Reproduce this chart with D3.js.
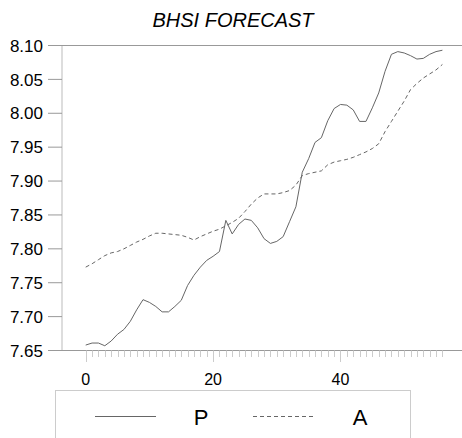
<!DOCTYPE html>
<html>
<head>
<meta charset="utf-8">
<script src="https://cdn.jsdelivr.net/npm/d3@7"></script>
<style>
  body { margin: 0; background: #fff; }
  svg { display: block; font-family: "Liberation Sans", Arial, sans-serif; }
</style>
</head>
<body>
<svg id="chart" width="462" height="438"></svg>
<script>
"use strict";

// data
const titulo = "BHSI FORECAST";
const series_nombres = ["P", "A"];
const periodos = d3.range(0, 57);
const valores_p = [
    7.658, 7.661, 7.661, 7.657, 7.664, 7.674, 7.681, 7.693, 7.710, 7.725,
    7.721, 7.715, 7.707, 7.707, 7.715, 7.724, 7.746, 7.761, 7.773, 7.783,
    7.789, 7.796, 7.842, 7.822, 7.836, 7.844, 7.842, 7.831, 7.815, 7.808,
    7.811, 7.818, 7.840, 7.862, 7.913, 7.933, 7.957, 7.964, 7.989, 8.007,
    8.013, 8.012, 8.005, 7.988, 7.988, 8.008, 8.030, 8.062, 8.087, 8.091,
    8.089, 8.085, 8.080, 8.081, 8.087, 8.091, 8.093
];
const valores_a = [
    7.773, 7.778, 7.784, 7.790, 7.794, 7.796, 7.800, 7.805, 7.810, 7.814,
    7.819, 7.823, 7.823, 7.822, 7.821, 7.820, 7.817, 7.813, 7.818, 7.822,
    7.826, 7.829, 7.834, 7.839, 7.845, 7.855, 7.866, 7.875, 7.881, 7.881,
    7.881, 7.883, 7.886, 7.894, 7.908, 7.911, 7.913, 7.915, 7.924, 7.928,
    7.930, 7.932, 7.935, 7.939, 7.943, 7.948, 7.955, 7.973, 7.988, 8.003,
    8.018, 8.035, 8.044, 8.052, 8.058, 8.064, 8.072
];
const ticks_y = [7.65, 7.70, 7.75, 7.80, 7.85, 7.90, 7.95, 8.00, 8.05, 8.10];
const ticks_x_mayor = [0, 20, 40];

const svg = d3.select("#chart");
const width = 462;
const top_y = 45.5, bottom_y = 350.5, eje_x = 62;

let x = d3.scaleLinear().domain([0, 56]).range([85.7, 442.4]);
let y = d3.scaleLinear().domain([7.65, 8.10]).range([bottom_y, top_y]);

// title
svg.append("text")
    .attr("x", 233)
    .attr("y", 27)
    .attr("text-anchor", "middle")
    .style("font-size", "20px")
    .style("font-style", "italic")
    .attr("fill", "#000")
    .text(titulo);

// left axis line (light)
svg.append("line")
    .attr("x1", eje_x).attr("x2", eje_x)
    .attr("y1", top_y).attr("y2", bottom_y)
    .attr("stroke", "#ddd")
    .attr("stroke-width", 2);

// y ticks + labels
let gy = svg.append("g").attr("class", "eje-y");
gy.selectAll("line.tick")
    .data(ticks_y)
    .enter().append("line")
    .attr("class", "tick")
    .attr("x1", 48).attr("x2", eje_x)
    .attr("y1", (d) => y(d)).attr("y2", (d) => y(d))
    .attr("stroke", "#999");
gy.selectAll("text")
    .data(ticks_y)
    .enter().append("text")
    .attr("x", 43)
    .attr("y", (d) => y(d))
    .attr("dy", ".36em")
    .attr("text-anchor", "end")
    .style("font-size", "17px")
    .text((d) => d.toFixed(2));

// top and bottom frame lines
[8.10, 7.65].forEach(function (v) {
    svg.append("line")
        .attr("x1", 48).attr("x2", width)
        .attr("y1", y(v)).attr("y2", y(v))
        .attr("stroke", "#999");
});

// x ticks
let gx = svg.append("g").attr("class", "eje-x");
gx.selectAll("line")
    .data(periodos)
    .enter().append("line")
    .attr("x1", (d) => Math.round(x(d)) + 0.5)
    .attr("x2", (d) => Math.round(x(d)) + 0.5)
    .attr("y1", bottom_y)
    .attr("y2", (d) => ticks_x_mayor.indexOf(d) >= 0 ? 362 : 357)
    .attr("stroke", "#ccc");
gx.selectAll("text")
    .data(ticks_x_mayor)
    .enter().append("text")
    .attr("x", (d) => x(d))
    .attr("y", 385)
    .attr("text-anchor", "middle")
    .style("font-size", "16px")
    .text((d) => d);

// lines
let linea = d3.line()
    .x((d, i) => x(periodos[i]))
    .y((d) => y(d));

svg.append("path")
    .datum(valores_p)
    .attr("d", linea)
    .attr("fill", "none")
    .attr("stroke", "#666")
    .attr("stroke-width", 1);

svg.append("path")
    .datum(valores_a)
    .attr("d", linea)
    .attr("fill", "none")
    .attr("stroke", "#666")
    .attr("stroke-width", 1)
    .attr("stroke-dasharray", "4,3");

// legend
let leyenda = svg.append("g").attr("class", "leyenda");
leyenda.append("rect")
    .attr("x", 55.5).attr("y", 390.5)
    .attr("width", 355).attr("height", 60)
    .attr("fill", "none")
    .attr("stroke", "#ccc");

let items = [
    { nombre: series_nombres[0], x0: 95, dash: null, tx: 201 },
    { nombre: series_nombres[1], x0: 253, dash: "4,3", tx: 360 }
];
items.forEach(function (it) {
    leyenda.append("line")
        .attr("x1", it.x0).attr("x2", it.x0 + 61)
        .attr("y1", 416.5).attr("y2", 416.5)
        .attr("stroke", "#666")
        .attr("stroke-dasharray", it.dash);
    leyenda.append("text")
        .attr("x", it.tx)
        .attr("y", 425)
        .attr("text-anchor", "middle")
        .style("font-size", "22px")
        .text(it.nombre);
});
</script>
</body>
</html>
